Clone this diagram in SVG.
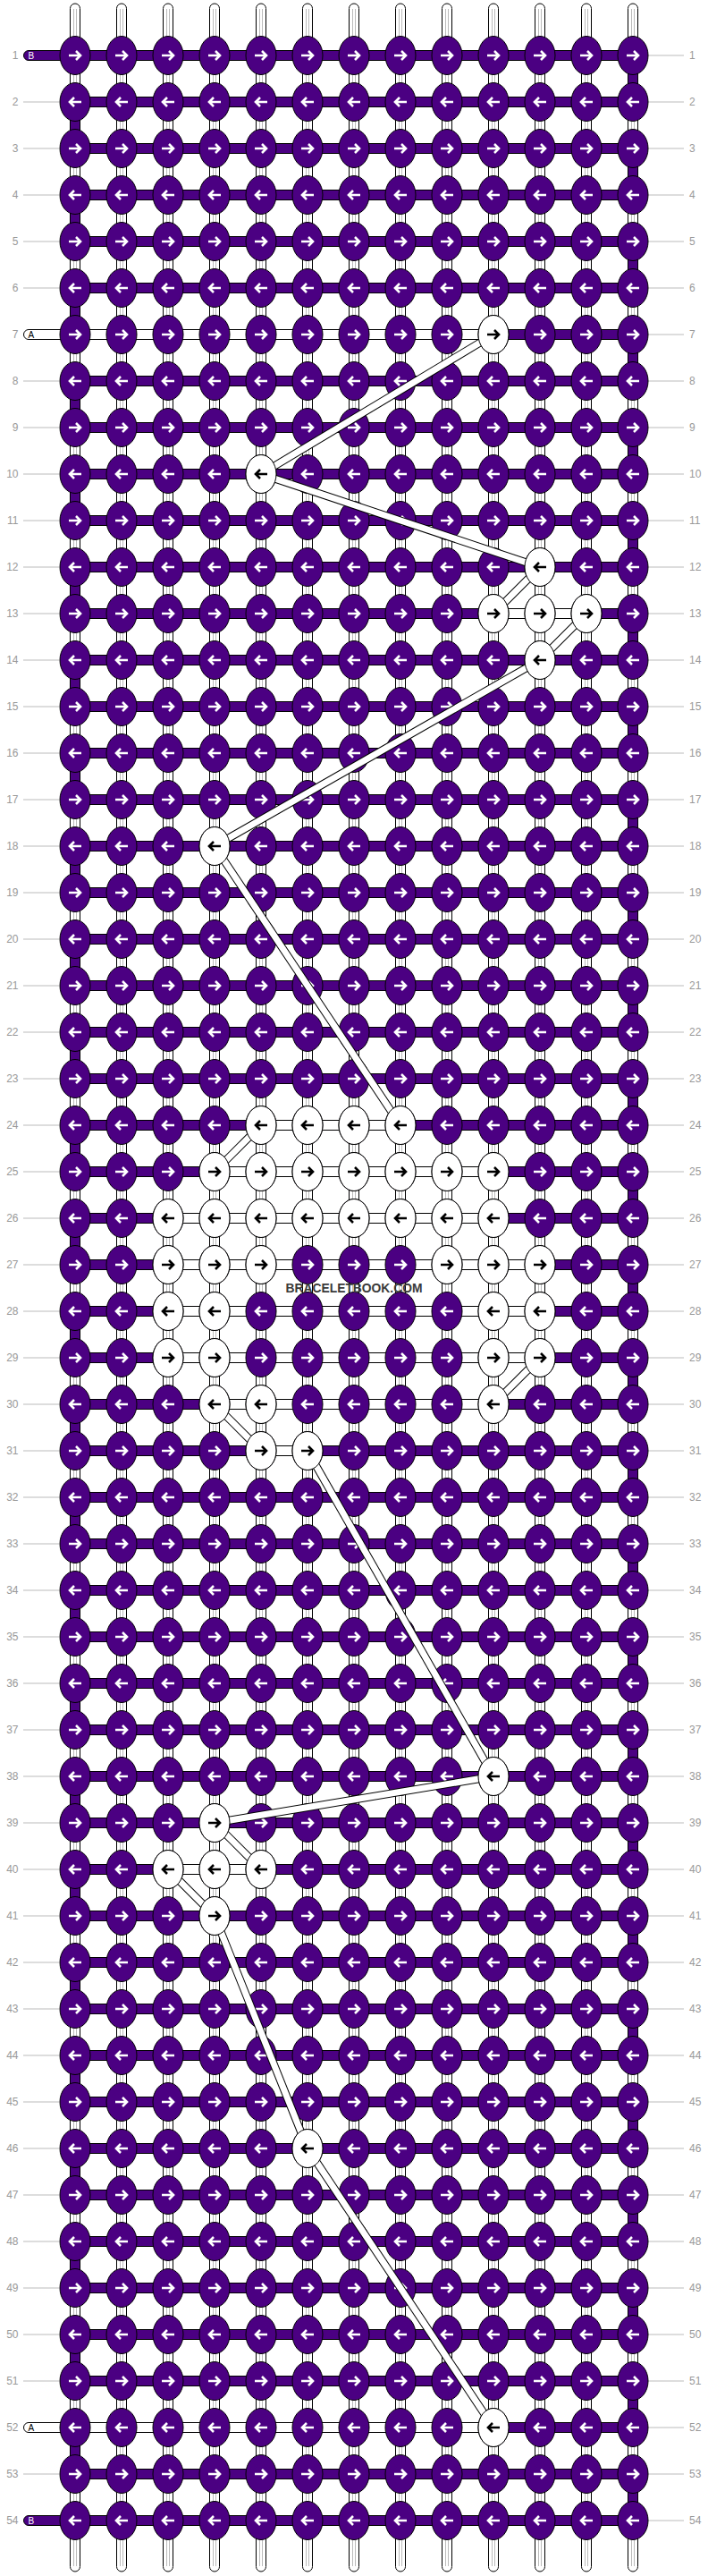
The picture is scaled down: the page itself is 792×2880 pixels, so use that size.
<svg xmlns="http://www.w3.org/2000/svg" width="792" height="2880" viewBox="0 0 792 2880">
<style>
.p{fill:#4B0082;stroke:#000;stroke-width:1}
.w{fill:#fff;stroke:#000;stroke-width:1}
.aw{fill:none;stroke:#fff;stroke-width:2.6}
.ab{fill:none;stroke:#000;stroke-width:2.6}
.gl{fill:none;stroke:#bbb;stroke-width:1}
.num{font-family:"Liberation Sans",Arial,sans-serif;font-size:12px;fill:#999}
.tab{font-family:"Liberation Sans",Arial,sans-serif;font-size:10px}
.co{stroke:#000;stroke-width:9;fill:none}
.ci{stroke:#fff;stroke-width:7;fill:none}
</style>
<defs>
<g id="warp"><rect x="-5.5" y="4" width="11" height="2871" rx="5.5" class="w"/><path class="gl" d="M-1.5,10V2869M1.5,10V2869"/></g>
<g id="kR"><ellipse rx="17" ry="21.5" class="p"/><path class="aw" d="M-7,0H5.5M1,-5L6,0L1,5"/></g>
<g id="kL"><ellipse rx="17" ry="21.5" class="p"/><path class="aw" d="M7,0H-5.5M-1,-5L-6,0L-1,5"/></g>
<g id="wR"><ellipse rx="17" ry="21.5" class="w"/><path class="ab" d="M-7,0H5.5M1,-5L6,0L1,5"/></g>
<g id="wL"><ellipse rx="17" ry="21.5" class="w"/><path class="ab" d="M7,0H-5.5M-1,-5L-6,0L-1,5"/></g>
<g id="rowR"><use href="#kR" x="84"/><use href="#kR" x="136"/><use href="#kR" x="188"/><use href="#kR" x="240"/><use href="#kR" x="292"/><use href="#kR" x="344"/><use href="#kR" x="396"/><use href="#kR" x="448"/><use href="#kR" x="500"/><use href="#kR" x="552"/><use href="#kR" x="604"/><use href="#kR" x="656"/><use href="#kR" x="708"/></g>
<g id="rowL"><use href="#kL" x="84"/><use href="#kL" x="136"/><use href="#kL" x="188"/><use href="#kL" x="240"/><use href="#kL" x="292"/><use href="#kL" x="344"/><use href="#kL" x="396"/><use href="#kL" x="448"/><use href="#kL" x="500"/><use href="#kL" x="552"/><use href="#kL" x="604"/><use href="#kL" x="656"/><use href="#kL" x="708"/></g>
</defs>
<rect width="792" height="2880" fill="#fff"/>
<g id="warps">
<use href="#warp" x="84"/><use href="#warp" x="136"/><use href="#warp" x="188"/><use href="#warp" x="240"/><use href="#warp" x="292"/><use href="#warp" x="344"/><use href="#warp" x="396"/><use href="#warp" x="448"/><use href="#warp" x="500"/><use href="#warp" x="552"/><use href="#warp" x="604"/><use href="#warp" x="656"/><use href="#warp" x="708"/>
</g>
<g id="turns">
<path class="p" d="M702.5,62h11v52h-11z m0,104h11v52h-11z m0,104h11v52h-11z m0,104h11v52h-11z m0,104h11v52h-11z m0,104h11v52h-11z m0,104h11v52h-11z m0,104h11v52h-11z m0,104h11v52h-11z m0,104h11v52h-11z m0,104h11v52h-11z m0,104h11v52h-11z m0,104h11v52h-11z m0,104h11v52h-11z m0,104h11v52h-11z m0,104h11v52h-11z m0,104h11v52h-11z m0,104h11v52h-11z m0,104h11v52h-11z m0,104h11v52h-11z m0,104h11v52h-11z m0,104h11v52h-11z m0,104h11v52h-11z m0,104h11v52h-11z m0,104h11v52h-11z m0,104h11v52h-11z m0,104h11v52h-11z"/>
<path class="p" d="M78.5,114h11v52h-11z m0,104h11v52h-11z m0,104h11v52h-11z m0,104h11v52h-11z m0,104h11v52h-11z m0,104h11v52h-11z m0,104h11v52h-11z m0,104h11v52h-11z m0,104h11v52h-11z m0,104h11v52h-11z m0,104h11v52h-11z m0,104h11v52h-11z m0,104h11v52h-11z m0,104h11v52h-11z m0,104h11v52h-11z m0,104h11v52h-11z m0,104h11v52h-11z m0,104h11v52h-11z m0,104h11v52h-11z m0,104h11v52h-11z m0,104h11v52h-11z m0,104h11v52h-11z m0,104h11v52h-11z m0,104h11v52h-11z m0,104h11v52h-11z m0,104h11v52h-11z"/>
</g>
<g id="bands">
<path class="p" d="M84,56.5h624v11h-624z m0,52h624v11h-624z m0,52h624v11h-624z m0,52h624v11h-624z m0,52h624v11h-624z m0,52h624v11h-624z m0,52h624v11h-624z m0,52h624v11h-624z m0,52h624v11h-624z m0,52h624v11h-624z m0,52h624v11h-624z m0,52h624v11h-624z m0,52h624v11h-624z m0,52h624v11h-624z m0,52h624v11h-624z m0,52h624v11h-624z m0,52h624v11h-624z m0,52h624v11h-624z m0,52h624v11h-624z m0,52h624v11h-624z m0,52h624v11h-624z m0,52h624v11h-624z m0,52h624v11h-624z m0,52h624v11h-624z m0,52h624v11h-624z m0,52h624v11h-624z m0,52h624v11h-624z m0,52h624v11h-624z m0,52h624v11h-624z m0,52h624v11h-624z m0,52h624v11h-624z m0,52h624v11h-624z m0,52h624v11h-624z m0,52h624v11h-624z m0,52h624v11h-624z m0,52h624v11h-624z m0,52h624v11h-624z m0,52h624v11h-624z m0,52h624v11h-624z m0,52h624v11h-624z m0,52h624v11h-624z m0,52h624v11h-624z m0,52h624v11h-624z m0,52h624v11h-624z m0,52h624v11h-624z m0,52h624v11h-624z m0,52h624v11h-624z m0,52h624v11h-624z m0,52h624v11h-624z m0,52h624v11h-624z m0,52h624v11h-624z m0,52h624v11h-624z m0,52h624v11h-624z m0,52h624v11h-624z"/>
<rect class="w" x="552" y="680.5" width="104" height="11"/>
<rect class="w" x="292" y="1252.5" width="156" height="11"/>
<rect class="w" x="240" y="1304.5" width="312" height="11"/>
<rect class="w" x="188" y="1356.5" width="364" height="11"/>
<rect class="w" x="188" y="1408.5" width="416" height="11"/>
<rect class="w" x="188" y="1460.5" width="416" height="11"/>
<rect class="w" x="188" y="1512.5" width="416" height="11"/>
<rect class="w" x="240" y="1564.5" width="312" height="11"/>
<rect class="w" x="292" y="1616.5" width="52" height="11"/>
<rect class="w" x="188" y="2084.5" width="104" height="11"/>
</g>
<g id="tabs">
<g id="tab-1"><rect class="p" x="26.5" y="56.5" width="57.5" height="11" rx="5.5"/><text class="tab" x="31.5" y="65.7" fill="#fff">B</text></g>
<g id="tab-7"><rect class="w" x="26.5" y="368.5" width="525.5" height="11" rx="5.5"/><text class="tab" x="31.5" y="377.7" fill="#000">A</text></g>
<g id="tab-52"><rect class="w" x="26.5" y="2708.5" width="525.5" height="11" rx="5.5"/><text class="tab" x="31.5" y="2717.7" fill="#000">A</text></g>
<g id="tab-54"><rect class="p" x="26.5" y="2812.5" width="57.5" height="11" rx="5.5"/><text class="tab" x="31.5" y="2821.7" fill="#fff">B</text></g>
</g>
<g id="labels">
<path class="gl" d="M26,114h40M26,166h40M26,218h40M26,270h40M26,322h40M26,426h40M26,478h40M26,530h40M26,582h40M26,634h40M26,686h40M26,738h40M26,790h40M26,842h40M26,894h40M26,946h40M26,998h40M26,1050h40M26,1102h40M26,1154h40M26,1206h40M26,1258h40M26,1310h40M26,1362h40M26,1414h40M26,1466h40M26,1518h40M26,1570h40M26,1622h40M26,1674h40M26,1726h40M26,1778h40M26,1830h40M26,1882h40M26,1934h40M26,1986h40M26,2038h40M26,2090h40M26,2142h40M26,2194h40M26,2246h40M26,2298h40M26,2350h40M26,2402h40M26,2454h40M26,2506h40M26,2558h40M26,2610h40M26,2662h40M26,2766h40"/>
<path class="gl" d="M725,62h40 m-40,52h40 m-40,52h40 m-40,52h40 m-40,52h40 m-40,52h40 m-40,52h40 m-40,52h40 m-40,52h40 m-40,52h40 m-40,52h40 m-40,52h40 m-40,52h40 m-40,52h40 m-40,52h40 m-40,52h40 m-40,52h40 m-40,52h40 m-40,52h40 m-40,52h40 m-40,52h40 m-40,52h40 m-40,52h40 m-40,52h40 m-40,52h40 m-40,52h40 m-40,52h40 m-40,52h40 m-40,52h40 m-40,52h40 m-40,52h40 m-40,52h40 m-40,52h40 m-40,52h40 m-40,52h40 m-40,52h40 m-40,52h40 m-40,52h40 m-40,52h40 m-40,52h40 m-40,52h40 m-40,52h40 m-40,52h40 m-40,52h40 m-40,52h40 m-40,52h40 m-40,52h40 m-40,52h40 m-40,52h40 m-40,52h40 m-40,52h40 m-40,52h40 m-40,52h40 m-40,52h40"/>
<text class="num" text-anchor="end"><tspan x="20.5" y="66">1</tspan><tspan x="20.5" y="118">2</tspan><tspan x="20.5" y="170">3</tspan><tspan x="20.5" y="222">4</tspan><tspan x="20.5" y="274">5</tspan><tspan x="20.5" y="326">6</tspan><tspan x="20.5" y="378">7</tspan><tspan x="20.5" y="430">8</tspan><tspan x="20.5" y="482">9</tspan><tspan x="20.5" y="534">10</tspan><tspan x="20.5" y="586">11</tspan><tspan x="20.5" y="638">12</tspan><tspan x="20.5" y="690">13</tspan><tspan x="20.5" y="742">14</tspan><tspan x="20.5" y="794">15</tspan><tspan x="20.5" y="846">16</tspan><tspan x="20.5" y="898">17</tspan><tspan x="20.5" y="950">18</tspan><tspan x="20.5" y="1002">19</tspan><tspan x="20.5" y="1054">20</tspan><tspan x="20.5" y="1106">21</tspan><tspan x="20.5" y="1158">22</tspan><tspan x="20.5" y="1210">23</tspan><tspan x="20.5" y="1262">24</tspan><tspan x="20.5" y="1314">25</tspan><tspan x="20.5" y="1366">26</tspan><tspan x="20.5" y="1418">27</tspan><tspan x="20.5" y="1470">28</tspan><tspan x="20.5" y="1522">29</tspan><tspan x="20.5" y="1574">30</tspan><tspan x="20.5" y="1626">31</tspan><tspan x="20.5" y="1678">32</tspan><tspan x="20.5" y="1730">33</tspan><tspan x="20.5" y="1782">34</tspan><tspan x="20.5" y="1834">35</tspan><tspan x="20.5" y="1886">36</tspan><tspan x="20.5" y="1938">37</tspan><tspan x="20.5" y="1990">38</tspan><tspan x="20.5" y="2042">39</tspan><tspan x="20.5" y="2094">40</tspan><tspan x="20.5" y="2146">41</tspan><tspan x="20.5" y="2198">42</tspan><tspan x="20.5" y="2250">43</tspan><tspan x="20.5" y="2302">44</tspan><tspan x="20.5" y="2354">45</tspan><tspan x="20.5" y="2406">46</tspan><tspan x="20.5" y="2458">47</tspan><tspan x="20.5" y="2510">48</tspan><tspan x="20.5" y="2562">49</tspan><tspan x="20.5" y="2614">50</tspan><tspan x="20.5" y="2666">51</tspan><tspan x="20.5" y="2718">52</tspan><tspan x="20.5" y="2770">53</tspan><tspan x="20.5" y="2822">54</tspan></text>
<text class="num"><tspan x="771" y="66">1</tspan><tspan x="771" y="118">2</tspan><tspan x="771" y="170">3</tspan><tspan x="771" y="222">4</tspan><tspan x="771" y="274">5</tspan><tspan x="771" y="326">6</tspan><tspan x="771" y="378">7</tspan><tspan x="771" y="430">8</tspan><tspan x="771" y="482">9</tspan><tspan x="771" y="534">10</tspan><tspan x="771" y="586">11</tspan><tspan x="771" y="638">12</tspan><tspan x="771" y="690">13</tspan><tspan x="771" y="742">14</tspan><tspan x="771" y="794">15</tspan><tspan x="771" y="846">16</tspan><tspan x="771" y="898">17</tspan><tspan x="771" y="950">18</tspan><tspan x="771" y="1002">19</tspan><tspan x="771" y="1054">20</tspan><tspan x="771" y="1106">21</tspan><tspan x="771" y="1158">22</tspan><tspan x="771" y="1210">23</tspan><tspan x="771" y="1262">24</tspan><tspan x="771" y="1314">25</tspan><tspan x="771" y="1366">26</tspan><tspan x="771" y="1418">27</tspan><tspan x="771" y="1470">28</tspan><tspan x="771" y="1522">29</tspan><tspan x="771" y="1574">30</tspan><tspan x="771" y="1626">31</tspan><tspan x="771" y="1678">32</tspan><tspan x="771" y="1730">33</tspan><tspan x="771" y="1782">34</tspan><tspan x="771" y="1834">35</tspan><tspan x="771" y="1886">36</tspan><tspan x="771" y="1938">37</tspan><tspan x="771" y="1990">38</tspan><tspan x="771" y="2042">39</tspan><tspan x="771" y="2094">40</tspan><tspan x="771" y="2146">41</tspan><tspan x="771" y="2198">42</tspan><tspan x="771" y="2250">43</tspan><tspan x="771" y="2302">44</tspan><tspan x="771" y="2354">45</tspan><tspan x="771" y="2406">46</tspan><tspan x="771" y="2458">47</tspan><tspan x="771" y="2510">48</tspan><tspan x="771" y="2562">49</tspan><tspan x="771" y="2614">50</tspan><tspan x="771" y="2666">51</tspan><tspan x="771" y="2718">52</tspan><tspan x="771" y="2770">53</tspan><tspan x="771" y="2822">54</tspan></text>
</g>
<g id="knots">
<g id="row-1"><use href="#rowR" y="62"/></g>
<g id="row-2"><use href="#rowL" y="114"/></g>
<g id="row-3"><use href="#rowR" y="166"/></g>
<g id="row-4"><use href="#rowL" y="218"/></g>
<g id="row-5"><use href="#rowR" y="270"/></g>
<g id="row-6"><use href="#rowL" y="322"/></g>
<g id="row-7"><use href="#rowR" y="374"/></g>
<g id="row-8"><use href="#rowL" y="426"/></g>
<g id="row-9"><use href="#rowR" y="478"/></g>
<g id="row-10"><use href="#rowL" y="530"/></g>
<g id="row-11"><use href="#rowR" y="582"/></g>
<g id="row-12"><use href="#rowL" y="634"/></g>
<g id="row-13"><use href="#rowR" y="686"/></g>
<g id="row-14"><use href="#rowL" y="738"/></g>
<g id="row-15"><use href="#rowR" y="790"/></g>
<g id="row-16"><use href="#rowL" y="842"/></g>
<g id="row-17"><use href="#rowR" y="894"/></g>
<g id="row-18"><use href="#rowL" y="946"/></g>
<g id="row-19"><use href="#rowR" y="998"/></g>
<g id="row-20"><use href="#rowL" y="1050"/></g>
<g id="row-21"><use href="#rowR" y="1102"/></g>
<g id="row-22"><use href="#rowL" y="1154"/></g>
<g id="row-23"><use href="#rowR" y="1206"/></g>
<g id="row-24"><use href="#rowL" y="1258"/></g>
<g id="row-25"><use href="#rowR" y="1310"/></g>
<g id="row-26"><use href="#rowL" y="1362"/></g>
<g id="row-27"><use href="#rowR" y="1414"/></g>
<g id="row-28"><use href="#rowL" y="1466"/></g>
<g id="row-29"><use href="#rowR" y="1518"/></g>
<g id="row-30"><use href="#rowL" y="1570"/></g>
<g id="row-31"><use href="#rowR" y="1622"/></g>
<g id="row-32"><use href="#rowL" y="1674"/></g>
<g id="row-33"><use href="#rowR" y="1726"/></g>
<g id="row-34"><use href="#rowL" y="1778"/></g>
<g id="row-35"><use href="#rowR" y="1830"/></g>
<g id="row-36"><use href="#rowL" y="1882"/></g>
<g id="row-37"><use href="#rowR" y="1934"/></g>
<g id="row-38"><use href="#rowL" y="1986"/></g>
<g id="row-39"><use href="#rowR" y="2038"/></g>
<g id="row-40"><use href="#rowL" y="2090"/></g>
<g id="row-41"><use href="#rowR" y="2142"/></g>
<g id="row-42"><use href="#rowL" y="2194"/></g>
<g id="row-43"><use href="#rowR" y="2246"/></g>
<g id="row-44"><use href="#rowL" y="2298"/></g>
<g id="row-45"><use href="#rowR" y="2350"/></g>
<g id="row-46"><use href="#rowL" y="2402"/></g>
<g id="row-47"><use href="#rowR" y="2454"/></g>
<g id="row-48"><use href="#rowL" y="2506"/></g>
<g id="row-49"><use href="#rowR" y="2558"/></g>
<g id="row-50"><use href="#rowL" y="2610"/></g>
<g id="row-51"><use href="#rowR" y="2662"/></g>
<g id="row-52"><use href="#rowL" y="2714"/></g>
<g id="row-53"><use href="#rowR" y="2766"/></g>
<g id="row-54"><use href="#rowL" y="2818"/></g>
</g>
<g id="connectors">
<g><line class="co" x1="552" y1="374" x2="292" y2="530"/><line class="ci" x1="552" y1="374" x2="292" y2="530"/></g>
<g><line class="co" x1="292" y1="530" x2="604" y2="634"/><line class="ci" x1="292" y1="530" x2="604" y2="634"/></g>
<g><line class="co" x1="604" y1="634" x2="552" y2="686"/><line class="ci" x1="604" y1="634" x2="552" y2="686"/></g>
<g><line class="co" x1="656" y1="686" x2="604" y2="738"/><line class="ci" x1="656" y1="686" x2="604" y2="738"/></g>
<g><line class="co" x1="604" y1="738" x2="240" y2="946"/><line class="ci" x1="604" y1="738" x2="240" y2="946"/></g>
<g><line class="co" x1="240" y1="946" x2="448" y2="1258"/><line class="ci" x1="240" y1="946" x2="448" y2="1258"/></g>
<g><line class="co" x1="292" y1="1258" x2="240" y2="1310"/><line class="ci" x1="292" y1="1258" x2="240" y2="1310"/></g>
<g><line class="co" x1="604" y1="1518" x2="552" y2="1570"/><line class="ci" x1="604" y1="1518" x2="552" y2="1570"/></g>
<g><line class="co" x1="240" y1="1570" x2="292" y2="1622"/><line class="ci" x1="240" y1="1570" x2="292" y2="1622"/></g>
<g><line class="co" x1="344" y1="1622" x2="552" y2="1986"/><line class="ci" x1="344" y1="1622" x2="552" y2="1986"/></g>
<g><line class="co" x1="552" y1="1986" x2="240" y2="2038"/><line class="ci" x1="552" y1="1986" x2="240" y2="2038"/></g>
<g><line class="co" x1="240" y1="2038" x2="292" y2="2090"/><line class="ci" x1="240" y1="2038" x2="292" y2="2090"/></g>
<g><line class="co" x1="188" y1="2090" x2="240" y2="2142"/><line class="ci" x1="188" y1="2090" x2="240" y2="2142"/></g>
<g><line class="co" x1="240" y1="2142" x2="344" y2="2402"/><line class="ci" x1="240" y1="2142" x2="344" y2="2402"/></g>
<g><line class="co" x1="344" y1="2402" x2="552" y2="2714"/><line class="ci" x1="344" y1="2402" x2="552" y2="2714"/></g>
</g>
<g id="pattern-knots">
<use id="k7-10" href="#wR" x="552" y="374"/>
<use id="k10-5" href="#wL" x="292" y="530"/>
<use id="k12-11" href="#wL" x="604" y="634"/>
<use id="k13-10" href="#wR" x="552" y="686"/><use id="k13-11" href="#wR" x="604" y="686"/><use id="k13-12" href="#wR" x="656" y="686"/>
<use id="k14-11" href="#wL" x="604" y="738"/>
<use id="k18-4" href="#wL" x="240" y="946"/>
<use id="k24-5" href="#wL" x="292" y="1258"/><use id="k24-6" href="#wL" x="344" y="1258"/><use id="k24-7" href="#wL" x="396" y="1258"/><use id="k24-8" href="#wL" x="448" y="1258"/>
<use id="k25-4" href="#wR" x="240" y="1310"/><use id="k25-5" href="#wR" x="292" y="1310"/><use id="k25-6" href="#wR" x="344" y="1310"/><use id="k25-7" href="#wR" x="396" y="1310"/><use id="k25-8" href="#wR" x="448" y="1310"/><use id="k25-9" href="#wR" x="500" y="1310"/><use id="k25-10" href="#wR" x="552" y="1310"/>
<use id="k26-3" href="#wL" x="188" y="1362"/><use id="k26-4" href="#wL" x="240" y="1362"/><use id="k26-5" href="#wL" x="292" y="1362"/><use id="k26-6" href="#wL" x="344" y="1362"/><use id="k26-7" href="#wL" x="396" y="1362"/><use id="k26-8" href="#wL" x="448" y="1362"/><use id="k26-9" href="#wL" x="500" y="1362"/><use id="k26-10" href="#wL" x="552" y="1362"/>
<use id="k27-3" href="#wR" x="188" y="1414"/><use id="k27-4" href="#wR" x="240" y="1414"/><use id="k27-5" href="#wR" x="292" y="1414"/><use id="k27-9" href="#wR" x="500" y="1414"/><use id="k27-10" href="#wR" x="552" y="1414"/><use id="k27-11" href="#wR" x="604" y="1414"/>
<use id="k28-3" href="#wL" x="188" y="1466"/><use id="k28-4" href="#wL" x="240" y="1466"/><use id="k28-10" href="#wL" x="552" y="1466"/><use id="k28-11" href="#wL" x="604" y="1466"/>
<use id="k29-3" href="#wR" x="188" y="1518"/><use id="k29-4" href="#wR" x="240" y="1518"/><use id="k29-10" href="#wR" x="552" y="1518"/><use id="k29-11" href="#wR" x="604" y="1518"/>
<use id="k30-4" href="#wL" x="240" y="1570"/><use id="k30-5" href="#wL" x="292" y="1570"/><use id="k30-10" href="#wL" x="552" y="1570"/>
<use id="k31-5" href="#wR" x="292" y="1622"/><use id="k31-6" href="#wR" x="344" y="1622"/>
<use id="k38-10" href="#wL" x="552" y="1986"/>
<use id="k39-4" href="#wR" x="240" y="2038"/>
<use id="k40-3" href="#wL" x="188" y="2090"/><use id="k40-4" href="#wL" x="240" y="2090"/><use id="k40-5" href="#wL" x="292" y="2090"/>
<use id="k41-4" href="#wR" x="240" y="2142"/>
<use id="k46-6" href="#wL" x="344" y="2402"/>
<use id="k52-10" href="#wL" x="552" y="2714"/>
</g>
<text x="396" y="1445" text-anchor="middle" font-family="Liberation Sans, Arial, sans-serif" font-weight="bold" font-size="15" fill="#3a3a3a" textLength="153" lengthAdjust="spacingAndGlyphs">BRACELETBOOK.COM</text>
</svg>
